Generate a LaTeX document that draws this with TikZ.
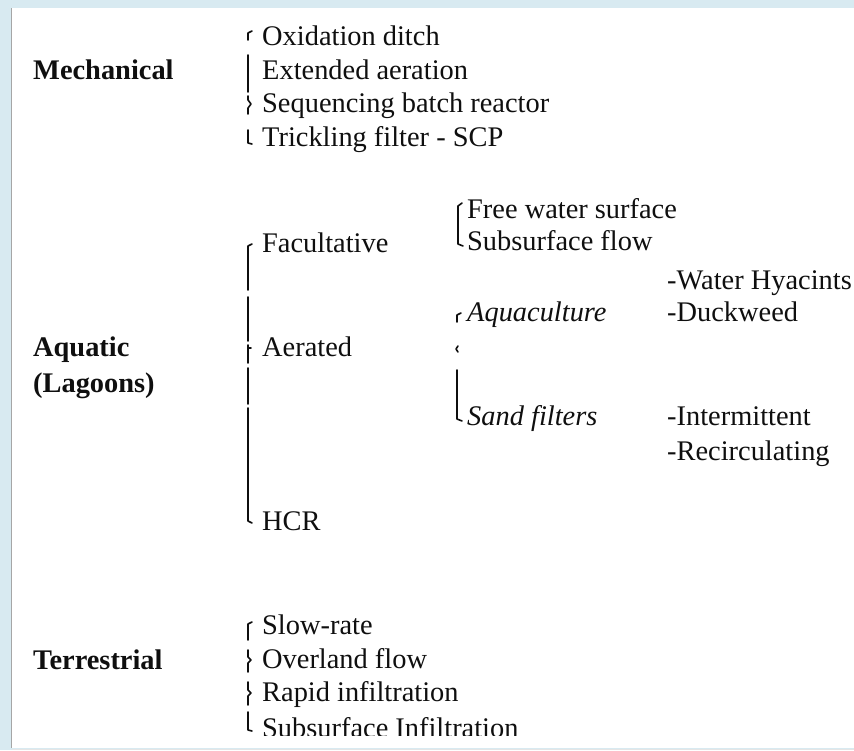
\documentclass[tikz,border=0pt]{standalone}
\usepackage{fontspec}
\setmainfont{Liberation Serif}
\definecolor{frameblue}{RGB}{216,234,241}
\definecolor{inkc}{RGB}{15,15,15}
\begin{document}
\begin{tikzpicture}[x=1pt,y=-1pt,
  txt/.style={anchor=base west, inner sep=0pt, text=inkc, font=\fontsize{28.4}{34}\selectfont},
  hd/.style={txt, font=\fontsize{28.4}{34}\selectfont\bfseries},
  itl/.style={txt, font=\fontsize{28.4}{34}\selectfont\itshape},
  brk/.style={draw=inkc, line width=1.6pt, line cap=round, line join=round}]
\useasboundingbox (0,0) rectangle (854,750);
\fill[frameblue] (0,0) rectangle (854,750);
\fill[white] (12,8) rectangle (854,748);
\draw[black!35, line width=1.5pt] (11.5,8) -- (11.5,748);
\draw[black!10, line width=1pt] (12,749) -- (854,749);
\begin{scope}
\clip (12,8) rectangle (854,735);
% Mechanical
\node[hd] (mech) at (33,79) {Mechanical};
\node[txt] (ox) at (262,45) {Oxidation ditch};
\node[txt] (ext) at (262,79) {Extended aeration};
\node[txt] (sbr) at (262,112) {Sequencing batch reactor};
\node[txt] (trk) at (262,146) {Trickling filter - SCP};
\draw[brk] (252,31) -- (248,33) -- (248,40);
\draw[brk] (248,55) -- (248,92);
\draw[brk] (248,96) -- (248,100) -- (251,104) -- (248,108) -- (248,114);
\draw[brk] (248,130) -- (248,143) -- (252,144);
% Aquatic
\node[hd] (aq1) at (33,356) {Aquatic};
\node[hd] (aq2) at (33,392) {(Lagoons)};
\node[txt] (fac) at (262,252) {Facultative};
\node[txt] (aer) at (262,356) {Aerated};
\node[txt] (hcr) at (262,530) {HCR};
\draw[brk] (252,244) -- (248,246) -- (248,290);
\draw[brk] (248,297) -- (248,341);
\draw[brk] (248,345) -- (248,363);
\draw[brk] (248,348) -- (251,348);
\draw[brk] (248,368) -- (248,404);
\draw[brk] (248,408) -- (248,521) -- (252,523);
\node[txt] (fws) at (467,218) {Free water surface};
\node[txt] (ssf) at (467,250) {Subsurface flow};
\draw[brk] (462,203) -- (458,206) -- (458,244) -- (463,246);
\node[itl] (aqc) at (467,321) {Aquaculture};
\node[itl] (snd) at (467,425) {Sand filters};
\draw[brk] (461,313) -- (457,315) -- (457,322);
\draw[brk] (458,346) -- (456,349) -- (458,352);
\draw[brk] (457,370) -- (457,419) -- (462,421);
\node[txt] (wh) at (667,289) {-Water Hyacints};
\node[txt] (dw) at (667,321) {-Duckweed};
\node[txt] (im) at (667,425) {-Intermittent};
\node[txt] (rc) at (667,460) {-Recirculating};
% Terrestrial
\node[hd] (ter) at (33,669) {Terrestrial};
\node[txt] (slo) at (262,634) {Slow-rate};
\node[txt] (ovl) at (262,668) {Overland flow};
\node[txt] (rap) at (262,701) {Rapid infiltration};
\node[txt] (sub) at (262,737) {Subsurface Infiltration};
\draw[brk] (252,622) -- (248,624) -- (248,640);
\draw[brk] (248,650) -- (248,657) -- (251,660) -- (248,663) -- (248,672);
\draw[brk] (248,682) -- (248,690) -- (251,693) -- (248,696) -- (248,705);
\draw[brk] (248,712) -- (248,730) -- (252,731);
\end{scope}
\end{tikzpicture}
\end{document}
